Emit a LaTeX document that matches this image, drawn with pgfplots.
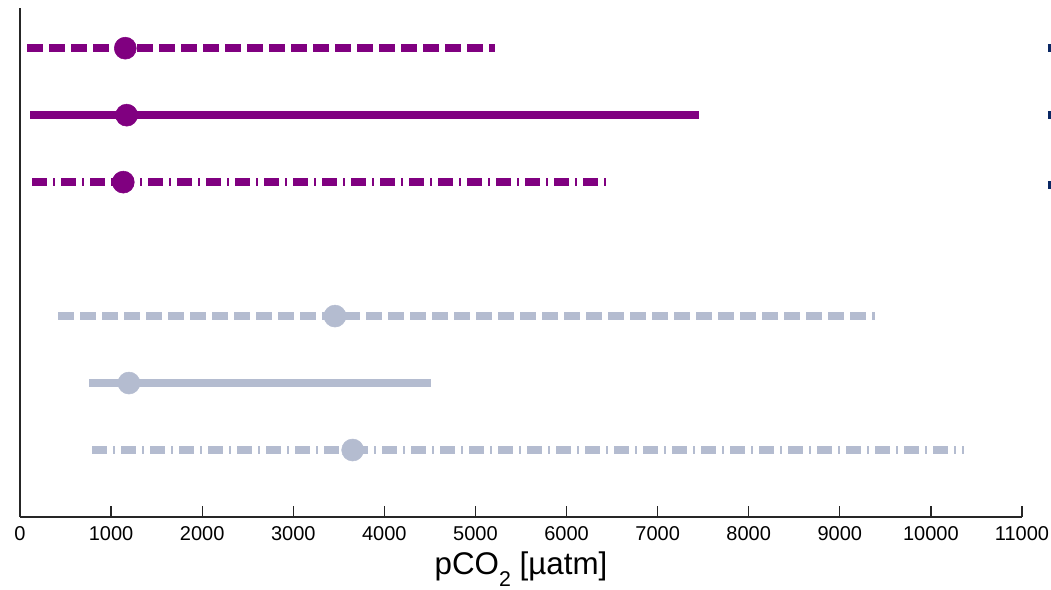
\documentclass[border=0pt]{standalone}
\usepackage{fontspec}
\setmainfont{Liberation Sans}
\usepackage{pgfplots}
\pgfplotsset{compat=1.18}
\definecolor{pur}{RGB}{128,0,128}
\definecolor{gry}{RGB}{180,188,208}
\definecolor{nav}{RGB}{10,40,100}
\begin{document}
\begin{tikzpicture}
\begin{axis}[
  scale only axis, width=751.5pt, height=381.75pt,
  xmin=0, xmax=11000, ymin=0, ymax=7.6,
  axis x line*=bottom, axis y line*=left,
  axis line style={line width=1.1pt, color=black!85},
  xtick={0,1000,...,11000}, ytick=\empty,
  tick align=inside, major tick length=8pt,
  tick style={line width=0.9pt, color=black!85},
  scaled x ticks=false,
  /pgf/number format/1000 sep={},
  /pgf/number format/assume math mode=true,
  xticklabel style={font=\fontsize{15}{17}\selectfont, yshift=-4pt},
  xlabel={pCO\raisebox{-0.4em}{\fontsize{16}{16}\selectfont 2} [µatm]},
  xlabel style={font=\fontsize{23.5}{26}\selectfont, yshift=-1pt},
  clip=false,
]
\coordinate (BL) at (rel axis cs:0,0);
\coordinate (TR) at (rel axis cs:1,1);
% purple group
\addplot[pur, line width=6pt, dash pattern=on 11.8pt off 4.7pt] coordinates {(77,7) (5214,7)};
\addplot[pur, line width=6pt] coordinates {(113,6) (7457,6)};
\addplot[pur, line width=6pt, dash pattern=on 11.25pt off 4.5pt on 1.5pt off 4.5pt] coordinates {(135,5) (6458,5)};
% grey group
\addplot[gry, line width=6pt, dash pattern=on 11.8pt off 4.7pt] coordinates {(420,3) (9389,3)};
\addplot[gry, line width=6pt] coordinates {(761,2) (4512,2)};
\addplot[gry, line width=6pt, dash pattern=on 11.25pt off 4.5pt on 1.5pt off 4.5pt] coordinates {(794,1) (10359,1)};
% markers
\addplot[only marks, mark=*, mark size=8.25pt, mark options={pur, fill=pur}] coordinates {(1156,7) (1171,6) (1134,5)};
\addplot[only marks, mark=*, mark size=8.25pt, mark options={gry, fill=gry}] coordinates {(3458,3) (1196,2) (3652,1)};
% cut-off marks at the right edge
\addplot[nav, line width=6pt] coordinates {(11285,7) (11320,7)};
\addplot[nav, line width=6pt] coordinates {(11285,6) (11320,6)};
\addplot[nav, line width=6pt] coordinates {(11285,4.95) (11320,4.95)};
\end{axis}
\pgfresetboundingbox
\path ([shift={(-15pt,-54.75pt)}]BL) rectangle ([shift={(21.75pt,6pt)}]TR);
\end{tikzpicture}
\end{document}
